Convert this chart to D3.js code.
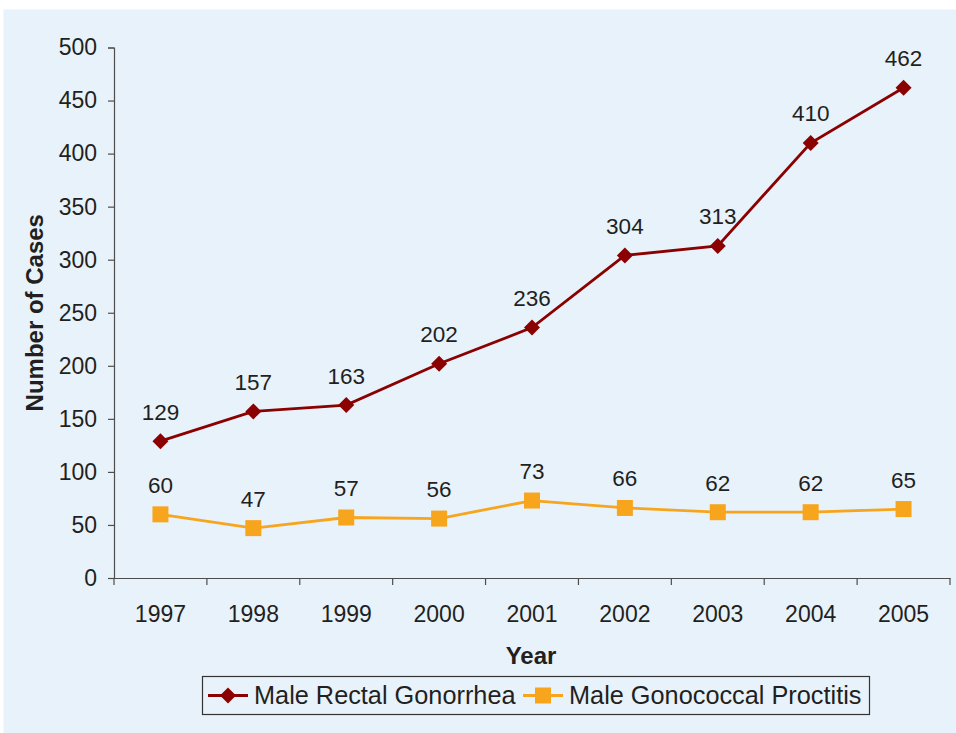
<!DOCTYPE html>
<html>
<head>
<meta charset="utf-8">
<script src="https://cdn.jsdelivr.net/npm/d3@7"></script>
<style>
  html, body { margin: 0; padding: 0; background: #ffffff; }
  svg { display: block; }
  text { font-family: "Liberation Sans", Arial, sans-serif; fill: #231f20; }
</style>
</head>
<body>
<script>
const years = ["1997","1998","1999","2000","2001","2002","2003","2004","2005"];
const rectalGonorrhea = [129,157,163,202,236,304,313,410,462];
const gonococcalProctitis = [60,47,57,56,73,66,62,62,65];
const yTicks = [0,50,100,150,200,250,300,350,400,450,500];
const seriesNames = ["Male Rectal Gonorrhea","Male Gonococcal Proctitis"];

(function () {
const W = 956, H = 733;
const svg = d3.select("body").append("svg").attr("width", W).attr("height", H);

svg.append("rect").attr("x", 3.5).attr("y", 9.5).attr("width", W - 3.5).attr("height", H - 9.5)
  .attr("fill", "#e8f2fb");

const pLeft = 114, pRight = 950, pTop = 47.5, pBottom = 578;
const x = d3.scaleBand().domain(years).range([pLeft, pRight]);
const y = d3.scaleLinear().domain([0, 500]).range([pBottom, pTop]);
const axisColor = "#4d4d4d";
const fontFam = "Liberation Sans, Arial, sans-serif";

// Y axis
const yAxis = svg.append("g").attr("transform", `translate(${pLeft},0)`)
  .call(d3.axisLeft(y).tickValues(yTicks).tickSize(6).tickPadding(11).tickFormat(d3.format("d")));
yAxis.select(".domain").attr("stroke", axisColor).attr("stroke-width", 1.2);
yAxis.selectAll(".tick line").attr("stroke", axisColor).attr("stroke-width", 1.2);
yAxis.selectAll(".tick text").attr("font-size", 23).attr("fill", "#231f20")
  .attr("font-family", fontFam);

// X axis
const xAxis = svg.append("g").attr("transform", `translate(0,${pBottom})`)
  .call(d3.axisBottom(x).tickSize(0).tickPadding(28));
xAxis.select(".domain").attr("stroke", axisColor).attr("stroke-width", 1.2);
xAxis.selectAll(".tick text").attr("font-size", 23).attr("fill", "#231f20")
  .attr("font-family", fontFam);
// band boundary ticks
const boundaries = years.map(d => x(d)).concat([x(years[years.length-1]) + x.bandwidth()]);
svg.append("g").selectAll("line").data(boundaries).join("line")
  .attr("x1", d => d).attr("x2", d => d).attr("y1", pBottom).attr("y2", pBottom + 7)
  .attr("stroke", axisColor).attr("stroke-width", 1.2);

// Axis titles
svg.append("text").attr("x", 531).attr("y", 664).attr("text-anchor", "middle")
  .attr("font-size", 24).attr("font-weight", "bold").text("Year");
svg.append("text").attr("transform", `translate(43,${(pTop+pBottom)/2}) rotate(-90)`)
  .attr("text-anchor", "middle").attr("font-size", 24).attr("font-weight", "bold")
  .text("Number of Cases");

const cx = d => x(d) + x.bandwidth() / 2;
const red = "#8b0000", orange = "#f7a51d";

const line = vals => d3.line().x((d, i) => cx(years[i])).y(d => y(d))(vals);

// Orange series
svg.append("path").attr("d", line(gonococcalProctitis)).attr("fill", "none")
  .attr("stroke", orange).attr("stroke-width", 2.8);
svg.append("g").selectAll("rect").data(gonococcalProctitis).join("rect")
  .attr("x", (d, i) => cx(years[i]) - 8).attr("y", d => y(d) - 8)
  .attr("width", 16).attr("height", 16).attr("fill", orange);

// Red series
svg.append("path").attr("d", line(rectalGonorrhea)).attr("fill", "none")
  .attr("stroke", red).attr("stroke-width", 2.8);
const diamond = (px, py, r) => `M${px},${py-r}L${px+r},${py}L${px},${py+r}L${px-r},${py}Z`;
svg.append("g").selectAll("path").data(rectalGonorrhea).join("path")
  .attr("d", (d, i) => diamond(cx(years[i]), y(d), 8)).attr("fill", red);

// Data labels
const labels = (vals) => svg.append("g").selectAll("text").data(vals).join("text")
  .attr("x", (d, i) => cx(years[i])).attr("y", d => y(d) - 21.5)
  .attr("text-anchor", "middle").attr("font-size", 22.5).text(d => d);
labels(rectalGonorrhea);
labels(gonococcalProctitis);

// Legend
const lg = svg.append("g");
lg.append("rect").attr("x", 202.5).attr("y", 676.5).attr("width", 667).attr("height", 38)
  .attr("fill", "none").attr("stroke", "#333").attr("stroke-width", 1.2);
const ly = 695.5;
lg.append("line").attr("x1", 208).attr("x2", 248).attr("y1", ly).attr("y2", ly)
  .attr("stroke", red).attr("stroke-width", 2.8);
lg.append("path").attr("d", diamond(228, ly, 8)).attr("fill", red);
lg.append("text").attr("x", 254).attr("y", ly + 8.5).attr("font-size", 25.3).text(seriesNames[0]);
lg.append("line").attr("x1", 523).attr("x2", 563).attr("y1", ly).attr("y2", ly)
  .attr("stroke", orange).attr("stroke-width", 2.8);
lg.append("rect").attr("x", 543 - 8).attr("y", ly - 8).attr("width", 16).attr("height", 16)
  .attr("fill", orange);
lg.append("text").attr("x", 569).attr("y", ly + 8.5).attr("font-size", 25.3).text(seriesNames[1]);
})();
</script>
</body>
</html>
